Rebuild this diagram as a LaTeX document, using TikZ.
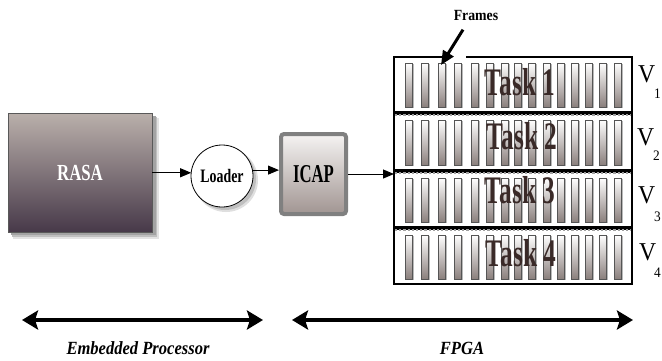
\documentclass[tikz,border=0pt]{standalone}
\usepackage{fontspec}
\setmainfont{Liberation Serif}
\newfontfamily\narrowA[FakeStretch=0.73]{Liberation Serif}
\newfontfamily\narrowT[FakeStretch=0.65]{Liberation Serif}
\newfontfamily\narrowV[FakeStretch=0.92]{Liberation Serif}
\newfontfamily\narrowF[FakeStretch=0.89]{Liberation Serif}
\usetikzlibrary{arrows.meta,calc}

\definecolor{rasatop}{HTML}{BAB0AB}
\definecolor{rasabot}{HTML}{473949}
\definecolor{icaptop}{HTML}{F5F3F2}
\definecolor{icapbot}{HTML}{A19592}
\definecolor{icapedge}{HTML}{808080}
\definecolor{barbot}{HTML}{8A7F7C}
\definecolor{barline}{HTML}{555555}
\definecolor{sepgray}{HTML}{A0A0A0}
\definecolor{taskink}{HTML}{3A2A28}

\begin{document}
\begin{tikzpicture}[x=1pt,y=-1pt,
  link/.style={line width=1pt, -{Triangle[length=11pt,width=9pt]}},
  span/.style={line width=4pt,
    {Stealth[length=16pt,width=19pt,inset=3pt]}-{Stealth[length=16pt,width=19pt,inset=3pt]}},
  framebar/.style={draw=barline, line width=0.7pt, top color=white, bottom color=barbot},
  barshadow/.style={fill=gray!55},
  rowbox/.style={draw=black, line width=1.4pt},
  rowsep/.style={draw=sepgray, line width=2.2pt, dotted},
  tasklabel/.style={font=\narrowT\bfseries\fontsize{39}{41}\selectfont, text=taskink, anchor=base, inner sep=0},
  vlabel/.style={font=\narrowV\fontsize{25.7}{27}\selectfont, anchor=base west, inner sep=0},
  vsub/.style={font=\narrowV\fontsize{14.5}{16}\selectfont, anchor=base west, inner sep=0},
  caption/.style={font=\narrowF\bfseries\itshape\fontsize{18.6}{20}\selectfont},
]
\useasboundingbox (0,0) rectangle (662,360);

% RASA block with its soft shadow
\fill[gray!22] (13,118) rectangle (159,239);
\fill[gray!50] (12,117) rectangle (157,237);
\fill[gray!72] (11,116) rectangle (156,235);
\node[draw=gray!70!black, line width=0.5pt, top color=rasatop, bottom color=rasabot,
  minimum width=144, minimum height=119, anchor=north west, inner sep=0, outer sep=0,
  text=white, font=\narrowA\bfseries\fontsize{23}{24}\selectfont] (rasa) at (8,113) {RASA};

% Loader circle with shadow
\fill[gray!25] (226,180) circle (32);
\fill[gray!50] (225,179) circle (31);
\node[circle, draw, line width=0.8pt, fill=white, minimum size=62, inner sep=0, outer sep=0,
  font=\narrowA\bfseries\fontsize{19}{20}\selectfont] (loader) at (222,176) {Loader};

% ICAP block
\node[draw=icapedge, line width=4pt, rounded corners=3pt, top color=icaptop, bottom color=icapbot,
  minimum width=65, minimum height=80, inner sep=0,
  font=\narrowT\bfseries\fontsize{25.7}{27}\selectfont] (icap) at (313.5,174) {ICAP};

% FPGA area
\node[minimum width=238, minimum height=227, anchor=north west, inner sep=0, outer sep=0] (fpga) at (394,57) {};

\foreach \t/\b in {57/112, 114/170, 172/227, 229/284} {
  \draw[rowbox] (394,\t) rectangle (632,\b);
  \foreach \x in {409,425,442,458,475,490,505,518,532,547,561,575,589,603,618} {
    \fill[barshadow] (\x-2.2,\t+7.4) rectangle (\x+4.6,\b-3.6);
    \draw[framebar] (\x-3.5,\t+6) rectangle (\x+3.5,\b-5);
  }
}
\draw[rowsep] (395,115) -- (631,115);
\draw[rowsep] (395,173) -- (631,173);
\draw[rowsep] (395,230) -- (631,230);

\node[tasklabel] (task1) at (520,95) {Task 1};
\node[tasklabel] (task2) at (522,149) {Task 2};
\node[tasklabel] (task3) at (520,203) {Task 3};
\node[tasklabel] (task4) at (521,266) {Task 4};

\node[vlabel] (v1) at (638,82) {V};  \node[vsub] (v1s) at (654,98) {1};
\node[vlabel] (v2) at (637,145) {V}; \node[vsub] (v2s) at (653,160) {2};
\node[vlabel] (v3) at (638,203) {V}; \node[vsub] (v3s) at (654,221) {3};
\node[vlabel] (v4) at (639,260) {V}; \node[vsub] (v4s) at (654,277) {4};

% Frames pointer
\node[font=\narrowF\bfseries\fontsize{15.5}{16}\selectfont] (frames) at (476,15) {Frames};
\coordinate (ftip) at (441,65);
\fill[white] (448,53) rectangle (466,61);
\draw[line width=3pt, -{Triangle[length=14pt,width=12pt]}] ($(frames.south)+(-13,6)$) -- (ftip);

% Data path
\draw[link] (rasa.east |- loader.174) -- (loader.174);
\draw[link] (loader.11) -- (icap.west |- loader.11);
\draw[link] (icap.east) -- (fpga.west |- icap.east);

% Extents
\coordinate (epl) at (22,320);  \coordinate (epr) at (263,320);
\coordinate (fpl) at (292,320); \coordinate (fpr) at (633,320);
\draw[span] (epl) -- (epr);
\draw[span] (fpl) -- (fpr);
\node[caption] (eplabel) at (138,348) {Embedded Processor};
\node[caption] (fpgalabel) at (462,348) {FPGA};
\end{tikzpicture}
\end{document}
